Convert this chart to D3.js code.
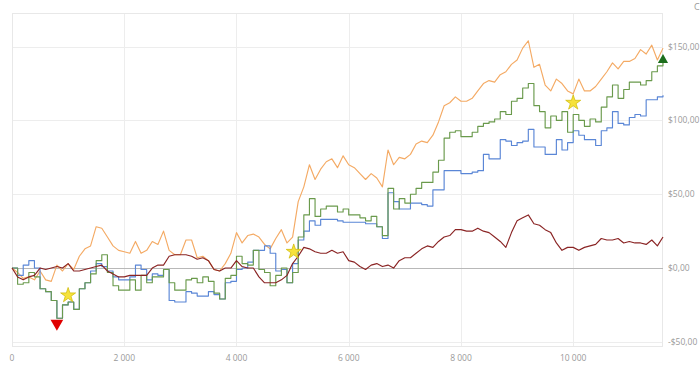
<!DOCTYPE html>
<html><head><meta charset="utf-8">
<script src="https://cdn.jsdelivr.net/npm/d3@7"></script>
<style>
html,body{margin:0;padding:0;background:#fff;}
svg{display:block;font-family:"Open Sans","Noto Sans",sans-serif;}
</style></head>
<body><svg id="c" width="700" height="368"></svg>
<script>
const xStep = 100;
const orange = [0,-3,-7,-6,-8,-2,-8,-9,2,-2,3,-1,8,13,15,28,27,21,15,12,11,10,18,10,12,18,16,25,12,9,9,19,19,7,8,5,-1,-2,3,10,24,17,22,23,21,16,13,20,26,17,21,45,55,70,60,67,72,74,68,76,70,68,64,60,64,61,55,80,70,75,74,77,84,86,85,90,99,110,112,116,113,113,115,120,125,127,126,131,133,138,141,149,154,136,138,124,120,128,125,120,118,128,120,120,123,128,133,139,135,140,140,142,148,145,151,141,149];
const green = [0,-11,-10,-3,-6,-14,-16,-22,-34,-25,-23,-28,-14,-10,-4,5,9,-3,-12,-15,-15,-8,-15,-5,-10,-6,-6,-1,-10,-15,-15,-8,-7,-10,-6,-9,-17,-21,-7,-5,8,3,2,12,-1,-3,-12,-5,0,-10,-3,21,36,47,35,40,42,42,38,40,36,36,34,32,35,28,22,54,40,47,44,50,54,58,58,65,73,88,92,93,89,89,92,96,98,99,101,106,104,113,115,122,125,110,106,95,103,100,106,92,104,100,96,101,99,109,116,124,115,121,126,126,124,127,133,137,141];
const blue = [0,-5,2,5,0,-14,-16,-22,-34,-25,-23,-28,-14,-10,-2,3,1,-2,-6,-8,-8,-6,2,-1,-8,-4,-5,-1,-22,-23,-23,-16,-17,-19,-19,-16,-18,-21,-10,-9,-1,0,4,12,12,15,10,-2,-1,-10,3,19,25,32,29,33,33,33,32,31,31,31,31,30,30,28,20,51,45,40,40,44,44,43,42,53,53,66,66,66,64,64,65,66,77,74,74,87,86,83,85,86,94,82,82,77,77,87,80,85,93,90,87,87,83,93,95,106,98,97,102,104,103,114,114,116,117];
const darkRed = [0,-6,-8,-6,-5,0,-1,0,1,0,3,-2,-2,-1,0,1,2,-2,-4,-6,-6,-5,-5,-5,-5,0,2,2,8,9,9,9,8,6,7,5,-1,-2,0,0,5,1,0,0,-6,-10,-10,-10,-8,-5,3,8,14,13,11,10,10,12,10,11,5,4,1,-1,2,3,1,2,0,5,7,7,10,13,15,14,18,21,22,26,26,25,25,27,25,24,21,18,14,24,32,34,36,30,29,26,24,17,12,14,14,12,14,15,16,20,19,19,20,17,18,17,17,16,19,15,21];

const xTicks = [0,2000,4000,6000,8000,10000];
const xTickLabels = ["0","2 000","4 000","6 000","8 000","10 000"];
const yTicks = [-50,0,50,100,150];
const yTickLabels = ["-$50,00","$0,00","$50,00","$100,00","$150,00"];

const starX = [1000,5020,10000];
const starY = [-18.5,11,112];
const downX = [800];
const downY = [-37.5];
const upX = [11600];
const upY = [141];

const svg = d3.select("#c");
const L=12,R=663,T=13,B=347;
const x = d3.scaleLinear().domain([0,11600]).range([L,R]);
const y = d3.scaleLinear().domain([-53.5,172.8]).range([B,T]);

svg.append("rect").attr("width",700).attr("height",368).attr("fill","#fff");

svg.append("g").selectAll("line").data(xTicks.slice(1)).join("line")
  .attr("x1",d=>Math.round(x(d))+0.5).attr("x2",d=>Math.round(x(d))+0.5).attr("y1",T).attr("y2",B)
  .attr("stroke","#ededed").attr("stroke-width",1);
svg.append("g").selectAll("line").data(yTicks.filter(d=>d!==0)).join("line")
  .attr("x1",L).attr("x2",R).attr("y1",d=>Math.round(y(d))+0.5).attr("y2",d=>Math.round(y(d))+0.5)
  .attr("stroke","#ededed").attr("stroke-width",1);
svg.append("rect").attr("x",L+0.5).attr("y",T+0.5).attr("width",R-L-1).attr("height",B-T-1)
  .attr("fill","none").attr("stroke","#e8e8e8");
svg.append("line").attr("x1",L).attr("x2",R).attr("y1",Math.round(y(0))+0.5).attr("y2",Math.round(y(0))+0.5)
  .attr("stroke","#b8b8b8").attr("stroke-width",1);

svg.append("g").selectAll("text").data(yTicks).join("text")
  .attr("x",668).attr("y",d=>y(d)).attr("dy","0.35em")
  .attr("font-size","8.5px").attr("fill","#9a9a9a")
  .text((d,i)=>yTickLabels[i]);
svg.append("g").selectAll("text").data(xTicks).join("text")
  .attr("x",d=>x(d)).attr("y",361).attr("text-anchor","middle")
  .attr("font-size","8.5px").attr("fill","#9a9a9a")
  .text((d,i)=>xTickLabels[i]);
svg.append("text").attr("x",694).attr("y",10).attr("font-size","9px").attr("fill","#9a9a9a").text("C");

const xs = orange.map((_,i)=>i*xStep);
function drawLine(vals,color,curve){
  const line = d3.line().x((d,i)=>x(xs[i])).y(d=>y(d)).curve(curve);
  svg.append("path").datum(vals).attr("d",line).attr("fill","none")
    .attr("stroke",color).attr("stroke-width",1.15).attr("stroke-linejoin","round");
}
drawLine(orange,"#f4aa64",d3.curveLinear);
drawLine(blue,"#5a86d6",d3.curveStepAfter);
drawLine(green,"#6a9a4c",d3.curveStepAfter);
drawLine(darkRed,"#8a2424",d3.curveLinear);

svg.append("g").selectAll("path").data(starX).join("path")
  .attr("transform",(d,i)=>`translate(${x(d)},${y(starY[i])})`)
  .attr("d",d3.symbol(d3.symbolStar,70))
  .attr("fill","#f6e23c").attr("stroke","#cdb800").attr("stroke-width",0.7);
svg.append("g").selectAll("path").data(downX).join("path")
  .attr("transform",(d,i)=>`translate(${x(d)},${y(downY[i])}) rotate(180)`)
  .attr("d",d3.symbol(d3.symbolTriangle,70))
  .attr("fill","#e00000");
svg.append("g").selectAll("path").data(upX).join("path")
  .attr("transform",(d,i)=>`translate(${x(d)},${y(upY[i])})`)
  .attr("d",d3.symbol(d3.symbolTriangle,45))
  .attr("fill","#1c6e1c");
</script></body></html>
